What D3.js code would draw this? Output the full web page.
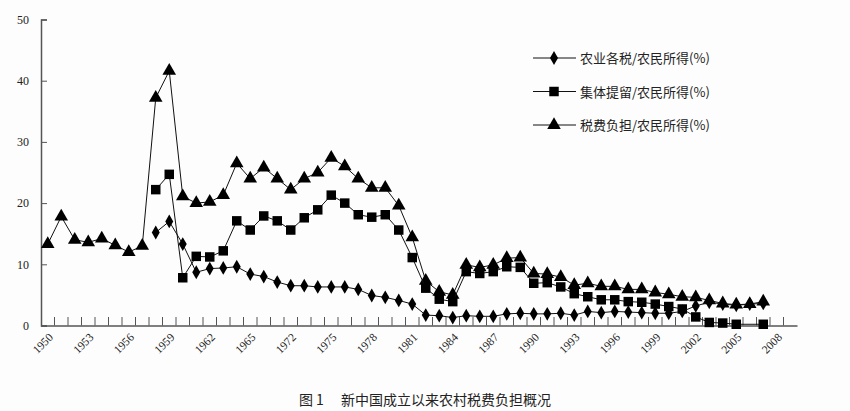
<!DOCTYPE html>
<html><head><meta charset="utf-8">
<script src="https://cdn.jsdelivr.net/npm/d3@7"></script>
<style>body{margin:0;background:#fdfdfd}svg{display:block}text{font-family:"Liberation Serif","DejaVu Serif",serif}</style>
</head><body><svg id="c" width="850" height="411"></svg>
<script>
const categories = ["1950","1951","1952","1953","1954","1955","1956","1957","1958","1959","1960","1961","1962","1963","1964","1965","1970","1971","1972","1973","1974","1975","1976","1977","1978","1979","1980","1981","1982","1983","1984","1985","1986","1987","1988","1989","1990","1991","1992","1993","1994","1995","1996","1997","1998","1999","2000","2001","2002","2003","2004","2005","2006","2007","2008","2009"];
const tickLabels = ["1950","1953","1956","1959","1962","1965","1972","1975","1978","1981","1984","1987","1990","1993","1996","1999","2002","2005","2008"];
const N = null;
const agriTax = [N,N,N,N,N,N,N,N,15.2,17.0,13.3,8.7,9.3,9.4,9.6,8.4,8.0,7.1,6.5,6.5,6.3,6.3,6.3,5.9,4.9,4.6,4.1,3.5,1.7,1.6,1.3,1.6,1.5,1.5,1.9,2.0,1.9,1.9,2.0,1.7,2.3,2.1,2.3,2.2,2.1,2.0,2.0,2.3,3.2,3.8,3.5,3.3,3.5,3.6];
const collective = [N,N,N,N,N,N,N,N,22.2,24.7,7.8,11.3,11.2,12.2,17.1,15.6,17.9,17.1,15.6,17.6,18.9,21.3,20.0,18.1,17.7,18.1,15.6,11.1,6.1,4.3,3.9,8.8,8.5,8.8,9.6,9.5,6.9,7.0,6.3,5.2,4.7,4.2,4.2,3.9,3.8,3.5,3.1,2.7,1.4,0.5,0.4,0.2,N,0.2];
const total = [13.3,17.8,14.0,13.6,14.2,13.1,12.0,13.0,37.2,41.6,21.1,20.0,20.2,21.3,26.5,24.0,25.8,24.0,22.2,24.0,25.0,27.4,26.0,24.0,22.5,22.5,19.6,14.4,7.3,5.5,5.0,9.9,9.5,9.9,11.0,11.1,8.5,8.4,7.9,6.6,6.9,6.4,6.4,5.9,5.9,5.4,5.1,4.7,4.6,4.1,3.6,3.4,3.5,3.9];
const yTicks = [0,10,20,30,40,50];
const seriesNames = ["农业各税/农民所得(%)","集体提留/农民所得(%)","税费负担/农民所得(%)"];

const svg = d3.select("#c");
const x = d3.scaleBand().domain(categories).range([41,797]);
const y = d3.scaleLinear().domain([0,50]).range([325.5,19.5]);
const g = svg.append("g");
// axes
const ya = g.append("g").attr("transform","translate(41,0)").call(d3.axisLeft(y).tickValues(yTicks).tickSize(-6).tickPadding(12));
const xa = g.append("g").attr("transform","translate(0,325.5)").call(d3.axisBottom(x).tickValues([]).tickSizeOuter(0));
[ya,xa].forEach(a=>{a.select(".domain").attr("stroke","#555").attr("stroke-width",1.5);a.selectAll("line").attr("stroke","#555");});
ya.selectAll("text").attr("font-size",12).attr("fill","#222");
// x tick marks at band boundaries
g.append("g").selectAll("line").data(categories.slice(1)).join("line")
  .attr("x1",d=>x(d)).attr("x2",d=>x(d)).attr("y1",325.5).attr("y2",317).attr("stroke","#555");
g.append("g").selectAll("text").data(tickLabels).join("text")
  .attr("transform",d=>`translate(${x(d)+x.bandwidth()/2+6},${338}) rotate(-45)`)
  .attr("text-anchor","end").attr("font-size",11.5).attr("fill","#222").text(d=>d);

const sym = {d:d3.symbolDiamond, s:d3.symbolSquare, t:d3.symbolTriangle};
const sizes = {d:55, s:90, t:80};
function draw(data, k){
  const pts = data.map((v,i)=>({c:categories[i],v})).filter(p=>p.v!=null);
  const cx = d=>x(d.c)+x.bandwidth()/2;
  g.append("path").datum(pts).attr("fill","none").attr("stroke","#111").attr("stroke-width",1)
    .attr("d",d3.line().x(cx).y(d=>y(d.v)));
  g.append("g").selectAll("path").data(pts).join("path")
    .attr("transform",d=>`translate(${cx(d)},${y(d.v)})`)
    .attr("d",d3.symbol().type(sym[k]).size(sizes[k])).attr("fill","#000");
}
draw(total,"t"); draw(collective,"s"); draw(agriTax,"d");

// legend
const keys=["d","s","t"];
keys.forEach((k,i)=>{
  const ly = 58 + i*33.5;
  g.append("line").attr("x1",533).attr("x2",576).attr("y1",ly).attr("y2",ly).attr("stroke","#111");
  g.append("path").attr("transform",`translate(554,${ly})`).attr("d",d3.symbol().type(sym[k]).size(sizes[k])).attr("fill","#000");
  g.append("text").attr("x",580).attr("y",ly+5).attr("font-size",13).attr("fill","#222")
    .style("font-family","'Noto Sans CJK SC',sans-serif").text(seriesNames[i]);
});
svg.append("text").attr("x",425).attr("y",405).attr("text-anchor","middle").attr("font-size",14).attr("fill","#222")
  .style("font-family","'Noto Sans CJK SC',sans-serif").attr("xml:space","preserve").text("图 1　 新中国成立以来农村税费负担概况");
</script></body></html>
